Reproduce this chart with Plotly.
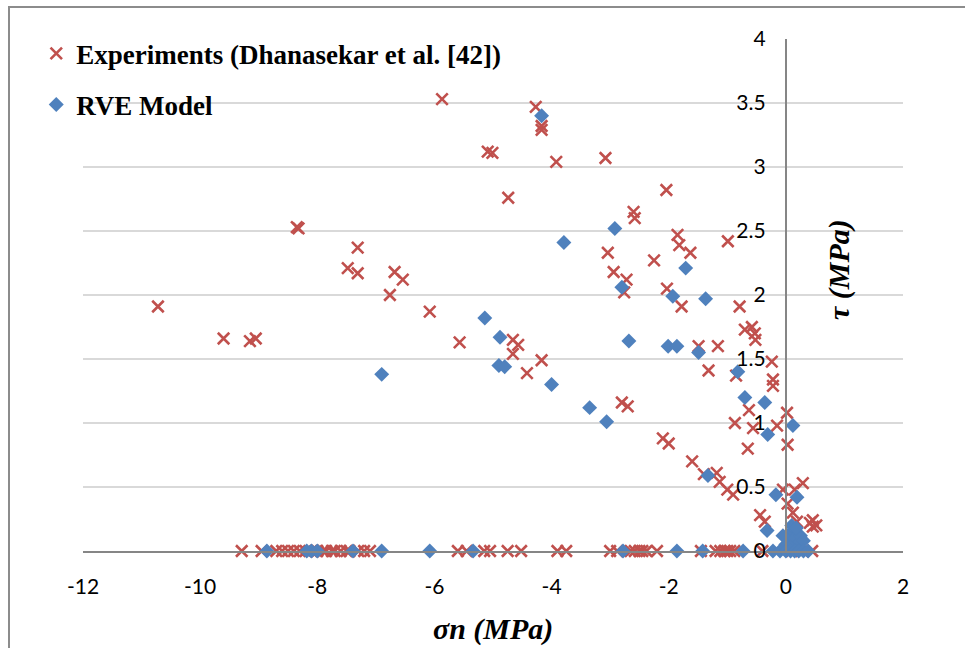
import plotly.graph_objects as go

# ---- Data ----
exp_sigma = [-10.72, -9.60, -9.15, -9.05, -8.35, -8.32, -7.31, -7.48, -7.31, -6.68, -6.54, -6.76,
             -6.08, -5.57, -5.87, -4.27, -4.17, -4.17, -5.09, -5.01, -3.92, -3.08, -4.74, -2.04,
             -2.60, -2.58, -3.04, -2.94, -2.72, -2.76, -2.25, -1.85, -1.82, -1.63, -2.03, -1.78,
             -0.99, -0.79, -0.70, -0.58, -0.53, -0.52, -0.24, -0.22, -0.22, -1.49, -1.16, -1.32,
             -0.85, -4.66, -4.57, -4.66, -4.17, -4.42, -2.80, -2.70, -2.10, -2.00, -1.60, -1.40,
             -1.18, -1.13, -1.00, -0.90, -0.63, -0.87, -0.56, -0.65, -0.15, 0.02, 0.03, -0.05,
             0.03, 0.12, 0.19, 0.29, 0.15, -0.44, -0.36, 0.41, 0.46, 0.46, 0.52,
             -9.29, -8.95, -8.70, -8.60, -8.50, -8.40, -8.30, -8.20, -8.10, -8.00, -7.90, -7.85,
             -7.75, -7.70, -7.60, -7.50, -7.45, -7.30, -7.20, -7.10, -5.60, -5.45, -5.15, -5.05,
             -4.75, -4.52, -3.90, -3.75, -3.00, -2.88, -2.65, -2.58, -2.50, -2.45, -2.38, -2.20,
             -1.45, -1.20, -1.12, -1.05, -1.00, -0.95, -0.88, -0.40, 0.10, 0.30, 0.45]
exp_tau = [1.91, 1.66, 1.64, 1.66, 2.53, 2.52, 2.37, 2.21, 2.17, 2.18, 2.12, 2.00,
           1.87, 1.63, 3.53, 3.47, 3.32, 3.29, 3.12, 3.11, 3.04, 3.07, 2.76, 2.82,
           2.65, 2.60, 2.33, 2.18, 2.12, 2.02, 2.27, 2.47, 2.39, 2.33, 2.05, 1.91,
           2.42, 1.91, 1.73, 1.75, 1.70, 1.65, 1.48, 1.34, 1.29, 1.60, 1.60, 1.41,
           1.37, 1.65, 1.61, 1.54, 1.49, 1.39, 1.16, 1.13, 0.88, 0.84, 0.70, 0.60,
           0.61, 0.54, 0.48, 0.44, 1.10, 1.00, 0.96, 0.80, 0.98, 1.08, 0.83, 0.48,
           0.37, 0.30, 0.23, 0.53, 0.48, 0.28, 0.23, 0.22, 0.19, 0.24, 0.20,
           0, 0, 0, 0, 0, 0, 0, 0, 0, 0, 0, 0,
           0, 0, 0, 0, 0, 0, 0, 0, 0, 0, 0, 0,
           0, 0, 0, 0, 0, 0, 0, 0, 0, 0, 0, 0,
           0, 0, 0, 0, 0, 0, 0, 0, 0, 0, 0]

rve_sigma = [-4.17, -3.79, -2.92, -2.80, -1.71, -1.93, -1.37, -5.14, -4.88, -4.90, -4.80, -2.68,
             -2.01, -1.86, -1.49, -0.82, -4.00, -3.35, -3.06, -6.90, -0.70, -0.36, -0.31, 0.12,
             -1.33, -0.17, 0.19, -0.32, 0.00, 0.05, 0.10, 0.15, 0.20, 0.25, 0.30, -0.05, 0.10,
             0.18, 0.08,
             -8.86, -8.18, -8.10, -8.00, -7.39, -6.90, -6.08, -5.34, -2.78, -1.86, -1.42, -0.73,
             -0.22, -0.10, 0.00, 0.08, 0.15, 0.22, 0.30, 0.38]
rve_tau = [3.40, 2.41, 2.52, 2.06, 2.21, 1.99, 1.97, 1.82, 1.67, 1.45, 1.44, 1.64,
           1.60, 1.60, 1.55, 1.40, 1.30, 1.12, 1.01, 1.38, 1.20, 1.16, 0.91, 0.98,
           0.59, 0.44, 0.42, 0.16, 0.05, 0.10, 0.15, 0.10, 0.05, 0.12, 0.08, 0.12, 0.20,
           0.18, 0.03,
           0, 0, 0, 0, 0, 0, 0, 0, 0, 0, 0, 0,
           0, 0, 0, 0, 0, 0, 0, 0]

x_ticks = [-12, -10, -8, -6, -4, -2, 0, 2]
y_ticks = [0, 0.5, 1, 1.5, 2, 2.5, 3, 3.5, 4]

RED = "#C0504D"
BLUE = "#4F81BD"

fig = go.Figure()
fig.add_trace(go.Scatter(
    x=exp_sigma, y=exp_tau, mode="markers", name="Experiments (Dhanasekar et al. [42])",
    legendgroup="a",
    marker=dict(symbol="x-thin", size=11.5, color=RED, line=dict(color=RED, width=2.6)),
    cliponaxis=False))
fig.add_trace(go.Scatter(
    x=rve_sigma, y=rve_tau, mode="markers", name="RVE Model",
    legendgroup="b",
    marker=dict(symbol="diamond", size=11.5, color=BLUE, line=dict(width=0)),
    cliponaxis=False))

tickfont = dict(family="Lato, Open Sans, sans-serif", size=21, color="#000000")
serif = "Liberation Serif, Times New Roman, serif"

fig.update_layout(
    width=965, height=648,
    margin=dict(l=83, r=62, t=39, b=97),
    paper_bgcolor="white", plot_bgcolor="white",
    showlegend=True,
    legend=dict(
        x=-0.057, y=1.019, xanchor="left", yanchor="top",
        traceorder="grouped", tracegroupgap=13,
        font=dict(family=serif, size=27, color="#000000", weight="bold"),
        bgcolor="rgba(0,0,0,0)", itemwidth=30),
    xaxis=dict(
        range=[-12, 2], tickvals=x_ticks, ticktext=[str(v) for v in x_ticks],
        showgrid=False, zeroline=False,
        showline=True, linecolor="#868686", linewidth=2,
        ticks="outside", ticklen=16, tickcolor="rgba(0,0,0,0)",
        tickfont=tickfont),
    yaxis=dict(
        range=[0, 4], tickvals=y_ticks, ticktext=["0", "0.5", "1", "1.5", "2", "2.5", "3", "3.5", "4"],
        anchor="free", position=12 / 14, side="left",
        showgrid=True, gridcolor="#D9D9D9", gridwidth=2,
        zeroline=False,
        showline=True, linecolor="#868686", linewidth=2,
        ticks="outside", ticklen=15, tickcolor="rgba(0,0,0,0)",
        tickfont=tickfont),
    annotations=[
        dict(text="σn (MPa)", xref="paper", yref="paper", x=(493 - 83) / 820, y=(551 - 629) / 512,
             showarrow=False, xanchor="center", yanchor="middle",
             font=dict(family=serif, size=30, color="#000000", weight="bold", style="italic")),
        dict(text="τ (MPa)", xref="paper", yref="paper", x=(839 - 83) / 820, y=(551 - 270) / 512,
             showarrow=False, xanchor="center", yanchor="middle", textangle=-90,
             font=dict(family=serif, size=30, color="#000000", weight="bold", style="italic")),
    ],
    shapes=[
        dict(type="rect", xref="paper", yref="paper",
             x0=(9 - 83) / 820, x1=1.2, y0=-0.4, y1=(551 - 7) / 512,
             line=dict(color="#8C8C8C", width=2), fillcolor="rgba(0,0,0,0)", layer="below"),
    ],
)

fig.write_html("out.html")
